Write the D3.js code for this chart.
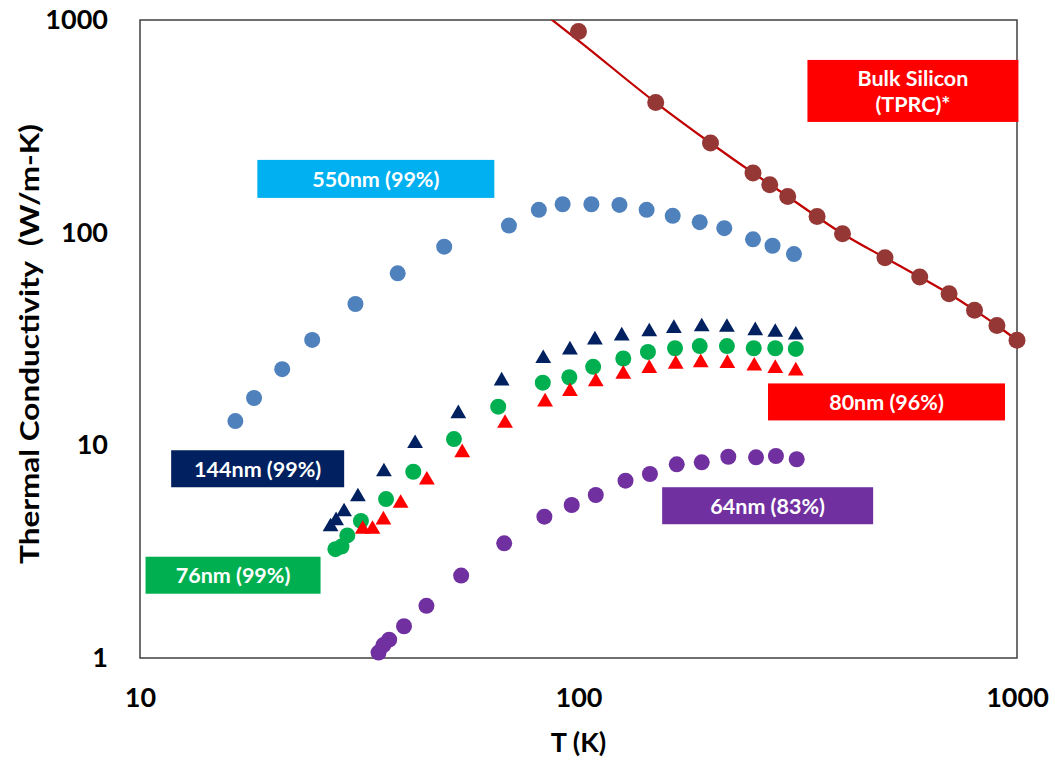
<!DOCTYPE html>
<html>
<head>
<meta charset="utf-8">
<script src="https://cdn.jsdelivr.net/npm/d3@7"></script>
<style>
  body { margin: 0; background: #fff; }
  text { font-family: Lato, "Open Sans", sans-serif; font-weight: bold; }
</style>
</head>
<body>
<script>
// temperatures (K) and thermal conductivity (W/m-K)
var bulkT = [100, 150, 200, 250, 273, 300, 350, 400, 500, 600, 700, 800, 900, 1000];
var bulkK = [884, 409, 264, 191, 168, 148, 119, 98.9, 76.2, 61.9, 51.6, 43.2, 36.6, 31.2];

// smooth curve drawn through the bulk data
var bulkLineT = [85, 100, 150, 200, 250, 300, 400, 500, 600, 700, 800, 900, 1000];
var bulkLineK = [1040, 800, 409, 264, 191, 148, 98.9, 76.2, 61.9, 51.6, 43.2, 36.6, 31.2];

var t550 = [16.5, 18.2, 21.1, 24.7, 31.0, 38.7, 49.4, 69.4, 81.2, 92.0, 107, 124, 143, 164, 189, 215, 250, 277, 310];
var k550 = [13.0, 16.7, 22.8, 31.3, 46.2, 64.4, 85.9, 108, 128, 136, 136, 135, 128, 120, 112, 105, 93.0, 86.8, 79.3];

var t144 = [27.2, 28.0, 29.2, 31.4, 36.0, 42.4, 53.2, 66.8, 83.1, 95.6, 109, 125.5, 145, 165, 191, 218, 253, 281, 313];
var k144 = [4.14, 4.42, 4.87, 5.73, 7.51, 10.2, 14.1, 20.1, 25.6, 28.1, 31.3, 32.7, 34.2, 35.5, 36.1, 35.9, 34.6, 34.0, 33.0];

var t76 = [27.9, 28.8, 29.7, 31.9, 36.4, 42.0, 52.0, 65.6, 82.9, 95.3, 108, 126.5, 144, 166, 189, 218, 251, 281, 313];
var k76 = [3.25, 3.34, 3.77, 4.41, 5.59, 7.51, 10.7, 15.2, 19.7, 20.9, 23.4, 25.6, 27.5, 28.6, 29.3, 29.3, 28.6, 28.6, 28.4];

var t80 = [32.2, 33.9, 35.9, 39.3, 45.1, 54.3, 68.0, 83.9, 95.6, 109.5, 126.5, 145, 166.6, 190, 218.5, 251.7, 281, 313];
var k80 = [4.03, 4.03, 4.46, 5.34, 6.87, 9.23, 12.7, 16.0, 17.9, 19.9, 21.6, 23.0, 24.1, 24.5, 24.3, 23.6, 23.0, 22.4];

var t64 = [35.0, 35.9, 37.0, 40.0, 45.0, 54.0, 67.7, 83.6, 96.5, 109.5, 128, 145.5, 167.5, 191, 219.6, 254, 282, 314.5];
var k64 = [1.06, 1.15, 1.22, 1.41, 1.76, 2.44, 3.46, 4.62, 5.24, 5.84, 6.82, 7.33, 8.14, 8.32, 8.84, 8.78, 8.91, 8.60];

var xTicks = [10, 100, 1000];
var yTicks = [1, 10, 100, 1000];

// label boxes: text lines and box centre in data units
var labelText = [["550nm (99%)"], ["144nm (99%)"], ["76nm (99%)"], ["Bulk Silicon", "(TPRC)*"], ["80nm (96%)"], ["64nm (83%)"]];
var labelT = [34.5, 18.55, 16.3, 579, 504, 270];
var labelK = [179, 7.76, 2.45, 464, 16.0, 5.2];

var width = 1055, height = 761;
var margin = {top: 20, right: 38, bottom: 103, left: 140};

var svg = d3.select("body").append("svg")
      .attr("width", width)
      .attr("height", height);

var x = d3.scaleLog().domain([10, 1000]).range([margin.left, width - margin.right]);
var y = d3.scaleLog().domain([1, 1000]).range([height - margin.bottom, margin.top]);

svg.append("defs").append("clipPath").attr("id", "plot")
      .append("rect")
      .attr("x", margin.left)
      .attr("y", margin.top)
      .attr("width", x(1000) - x(10))
      .attr("height", y(1) - y(1000));

// frame
svg.append("rect")
      .attr("x", margin.left)
      .attr("y", margin.top)
      .attr("width", x(1000) - x(10))
      .attr("height", y(1) - y(1000))
      .attr("fill", "none")
      .attr("stroke", "#404040")
      .attr("stroke-width", 1.5);

// axes (labels only)
var xAxis = svg.append("g")
      .attr("transform", "translate(0," + y(1) + ")")
      .call(d3.axisBottom(x).tickValues(xTicks).tickSize(0).tickPadding(30).tickFormat(d3.format("d")));
var yAxis = svg.append("g")
      .attr("transform", "translate(" + margin.left + ",0)")
      .call(d3.axisLeft(y).tickValues(yTicks).tickSize(0).tickPadding(32).tickFormat(d3.format("d")));

[xAxis, yAxis].forEach(function(a){
      a.select(".domain").remove();
      a.selectAll("text")
            .attr("font-family", "Lato, sans-serif")
            .attr("font-weight", "bold")
            .attr("font-size", 27)
            .attr("fill", "#000");
});

svg.append("text")
      .text("T (K)")
      .attr("x", x(100))
      .attr("y", 741)
      .attr("text-anchor", "middle")
      .attr("dominant-baseline", "central")
      .attr("font-size", 27);

svg.append("text")
      .text("Thermal Conductivity\u00a0 (W/m-K)")
      .attr("transform", "translate(28," + 344 + ") rotate(-90)")
      .attr("text-anchor", "middle")
      .attr("dominant-baseline", "central")
      .attr("font-size", 27)
      .attr("textLength", 440)
      .attr("lengthAdjust", "spacingAndGlyphs");

function pts(ts, ks) {
      return ts.map(function(t, i){ return {t: t, k: ks[i]}; });
}

function circles(data, color, r) {
      svg.append("g").selectAll("circle")
            .data(data)
            .enter().append("circle")
            .attr("cx", function(d){ return x(d.t); })
            .attr("cy", function(d){ return y(d.k); })
            .attr("r", r)
            .attr("fill", color);
}

function triangles(data, color) {
      var sym = d3.symbol().type(d3.symbolTriangle).size(108);
      svg.append("g").selectAll("path")
            .data(data)
            .enter().append("path")
            .attr("d", sym)
            .attr("transform", function(d){ return "translate(" + x(d.t) + "," + y(d.k) + ")"; })
            .attr("fill", color);
}

circles(pts(t550, k550), "#4f81bd", 8);
triangles(pts(t144, k144), "#002060");
circles(pts(t76, k76), "#00b050", 8);
triangles(pts(t80, k80), "#ff0000");
circles(pts(t64, k64), "#7030a0", 8);

// bulk silicon curve + points
var line = d3.line()
      .x(function(d){ return x(d.t); })
      .y(function(d){ return y(d.k); })
      .curve(d3.curveMonotoneX);

svg.append("path")
      .datum(pts(bulkLineT, bulkLineK))
      .attr("d", line)
      .attr("clip-path", "url(#plot)")
      .attr("fill", "none")
      .attr("stroke", "#c00000")
      .attr("stroke-width", 2.25);

circles(pts(bulkT, bulkK), "#953735", 8.5);

// label boxes
var boxW = [237, 173, 175, 211, 237, 211];
var boxH = [38, 37, 37, 62, 37, 37];
var boxFill = ["#00b0f0", "#002060", "#00b050", "#ff0000", "#ff0000", "#7030a0"];

labelText.forEach(function(lines, i){
      var cx = x(labelT[i]), cy = y(labelK[i]);
      svg.append("rect")
            .attr("x", cx - boxW[i] / 2)
            .attr("y", cy - boxH[i] / 2)
            .attr("width", boxW[i])
            .attr("height", boxH[i])
            .attr("fill", boxFill[i]);
      svg.append("text").selectAll("tspan")
            .data(lines)
            .enter().append("tspan")
            .text(function(d){ return d; })
            .attr("x", cx)
            .attr("y", function(d, j){ return cy + (j - (lines.length - 1) / 2) * 26; })
            .attr("text-anchor", "middle")
            .attr("dominant-baseline", "central")
            .attr("font-size", 21.5)
            .attr("fill", "#fff");
});
</script>
</body>
</html>
